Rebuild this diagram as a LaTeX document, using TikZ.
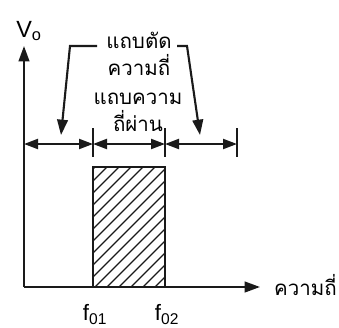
\documentclass[tikz,border=0pt]{standalone}
\usepackage{fontspec}
\setmainfont{Liberation Sans}
\newfontfamily\thaifont[Script=Thai]{Loma}
\usetikzlibrary{arrows.meta}

\begin{document}
\begin{tikzpicture}[x=0.3mm,y=0.3mm,font=\fontsize{20}{24}\selectfont,
  line width=1.8pt,
  big/.style={-{Triangle[length=4.6mm,width=3.2mm]}},
  dim/.style={{Triangle[length=4.2mm,width=3mm]}-{Triangle[length=4.2mm,width=3mm]}},
  thai/.style={font=\fontsize{17.5}{23}\selectfont\thaifont,align=center,inner sep=0pt}]
\definecolor{ink}{HTML}{1A1A1A}
\useasboundingbox (0,0) rectangle (339,327);
% axes
\coordinate (o) at (24,40);
\coordinate (ytip) at (24,281);
\coordinate (xtip) at (260,40);
\draw[ink,big] (o) -- (ytip);
\draw[ink,big] (o) -- (xtip);
\node[anchor=south,inner sep=0pt] (vo) at (29,285) {V\textsubscript{o}};
\node[thai,anchor=west] (freq) at (273,42) {ความถี่};
% pass band
\coordinate (f1) at (93,40);
\coordinate (f2) at (165,160);
\begin{scope}
\clip (f1) rectangle (f2);
\foreach \k in {-130,-118,...,80}
  \draw[ink,line width=1pt] (93+\k,40) -- ++(140,140);
\end{scope}
\draw[ink] (f1) rectangle (f2);
\node[anchor=north,inner sep=0pt,font=\fontsize{19}{22}\selectfont] (fa) at (95,24) {f\textsubscript{01}};
\node[anchor=north,inner sep=0pt,font=\fontsize{19}{22}\selectfont] (fb) at (167,24) {f\textsubscript{02}};
% band marks
\coordinate (da) at (24,183);
\coordinate (db) at (93,183);
\coordinate (dc) at (165,183);
\coordinate (dd) at (237,183);
\foreach \p in {db,dc,dd}
  \draw[ink] ([yshift=-11]\p) -- ([yshift=14]\p);
\draw[ink,dim] (da) -- (db);
\draw[ink,dim] (db) -- (dc);
\draw[ink,dim] (dc) -- (dd);
% labels
\node[thai] (stop) at (139,273) {แถบตัด\\ความถี่};
\node[thai] (pass) at (138,215) {แถบความ\\ถี่ผ่าน};
\coordinate (la) at (61,192);
\coordinate (lb) at (200,192);
\draw[ink,big] (97,281) -- (70,281) -- (la);
\draw[ink,big] (177,281) -- (187,281) -- (lb);
\end{tikzpicture}
\end{document}
